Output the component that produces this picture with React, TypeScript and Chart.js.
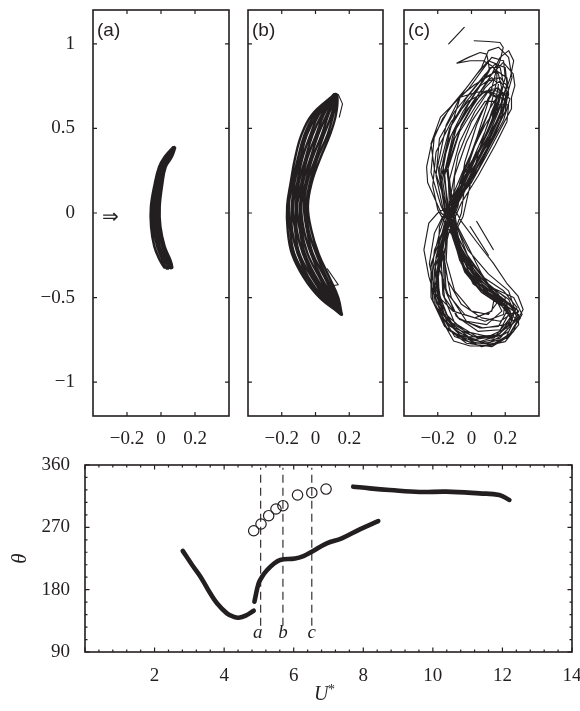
import React, { useEffect, useRef } from 'react';
import { Chart, registerables } from 'chart.js';

Chart.register(...registerables);

const INK = '#231f20';
const SERIF = '"Liberation Serif", "Times New Roman", serif';
const SANS = '"Liberation Sans", Arial, Helvetica, sans-serif';

// ---- orbit panels (a)-(c): shared axes ----
const ORBIT_X_TICKS = [-0.2, 0, 0.2];
const ORBIT_Y_TICKS = [-1, -0.5, 0, 0.5, 1];
const ORBIT_X_RANGE = [-0.4, 0.4];
const ORBIT_Y_RANGE = [-1.2, 1.2];
const PANEL_TAGS = ['(a)', '(b)', '(c)'];

// (a) narrow crescent, strands read bottom-to-top across the band
const ORBIT_A_STRANDS = [
  [[0.020, -0.322], [-0.008, -0.276], [-0.039, -0.198], [-0.058, -0.08], [-0.059, 0.037], [-0.036, 0.175], [-0.011, 0.272], [0.021, 0.331], [0.067, 0.384]],
  [[0.032, -0.326], [0.009, -0.276], [-0.022, -0.198], [-0.044, -0.08], [-0.046, 0.037], [-0.025, 0.175], [-0.002, 0.272], [0.031, 0.331], [0.071, 0.388]],
  [[0.045, -0.325], [0.024, -0.276], [-0.008, -0.198], [-0.030, -0.08], [-0.034, 0.037], [-0.014, 0.175], [0.010, 0.272], [0.043, 0.331], [0.076, 0.386]],
  [[0.056, -0.324], [0.039, -0.276], [0.008, -0.198], [-0.017, -0.08], [-0.021, 0.037], [-0.003, 0.175], [0.018, 0.272], [0.053, 0.331], [0.079, 0.389]],
  [[0.066, -0.322], [0.054, -0.276], [0.021, -0.198], [-0.004, -0.08], [-0.008, 0.037], [0.008, 0.175], [0.027, 0.272], [0.063, 0.331], [0.083, 0.385]],
];

// (b) wider crescent, strands read bottom-to-top
const ORBIT_B_STRANDS = [
  [[0.148, -0.595], [0.025, -0.50], [-0.070, -0.38], [-0.140, -0.24], [-0.165, -0.10], [-0.168, 0.04], [-0.147, 0.18], [-0.122, 0.32], [-0.084, 0.46], [-0.022, 0.58], [0.100, 0.69]],
  [[0.155, -0.60], [0.082, -0.50], [0.004, -0.38], [-0.063, -0.24], [-0.093, -0.10], [-0.108, 0.04], [-0.083, 0.18], [-0.050, 0.32], [0.003, 0.46], [0.048, 0.58], [0.115, 0.695]],
  [[0.146, -0.59], [0.045, -0.50], [-0.042, -0.38], [-0.106, -0.24], [-0.139, -0.10], [-0.141, 0.04], [-0.124, 0.18], [-0.090, 0.32], [-0.052, 0.46], [0.009, 0.58], [0.107, 0.70]],
  [[0.153, -0.595], [0.111, -0.50], [0.054, -0.38], [-0.016, -0.24], [-0.051, -0.10], [-0.068, 0.04], [-0.049, 0.18], [-0.001, 0.32], [0.049, 0.46], [0.094, 0.58], [0.125, 0.70]],
  [[0.151, -0.595], [0.067, -0.50], [-0.011, -0.38], [-0.075, -0.24], [-0.111, -0.10], [-0.117, 0.04], [-0.099, 0.18], [-0.060, 0.32], [-0.018, 0.46], [0.037, 0.58], [0.113, 0.70]],
  [[0.155, -0.60], [0.135, -0.50], [0.082, -0.38], [0.018, -0.24], [-0.025, -0.10], [-0.045, 0.04], [-0.022, 0.18], [0.027, 0.32], [0.085, 0.46], [0.121, 0.58], [0.130, 0.69]],
  [[0.150, -0.60], [0.038, -0.50], [-0.053, -0.38], [-0.126, -0.24], [-0.150, -0.10], [-0.158, 0.04], [-0.136, 0.18], [-0.105, 0.32], [-0.066, 0.46], [-0.006, 0.58], [0.104, 0.695]],
  [[0.156, -0.60], [0.104, -0.50], [0.034, -0.38], [-0.027, -0.24], [-0.069, -0.10], [-0.084, 0.04], [-0.058, 0.18], [-0.020, 0.32], [0.036, 0.46], [0.076, 0.58], [0.121, 0.69]],
  [[0.153, -0.60], [0.060, -0.50], [-0.022, -0.38], [-0.095, -0.24], [-0.121, -0.10], [-0.133, 0.04], [-0.108, 0.18], [-0.079, 0.32], [-0.031, 0.46], [0.019, 0.58], [0.110, 0.69]],
  [[0.157, -0.60], [0.126, -0.50], [0.065, -0.38], [0.004, -0.24], [-0.041, -0.10], [-0.055, 0.04], [-0.033, 0.18], [0.010, 0.32], [0.070, 0.46], [0.105, 0.58], [0.128, 0.695]],
  [[0.152, -0.59], [0.089, -0.50], [0.023, -0.38], [-0.047, -0.24], [-0.083, -0.10], [-0.092, 0.04], [-0.074, 0.18], [-0.031, 0.32], [0.015, 0.46], [0.066, 0.58], [0.119, 0.70]],
];
const ORBIT_B_TAILS = [
  [[0.108, 0.704], [0.135, 0.70], [0.160, 0.645], [0.141, 0.567]],
  [[0.070, -0.330], [0.135, -0.424], [0.102, -0.430]],
];

// (c) figure-eight cycles, sampled coarsely (one trajectory, cycle by cycle)
const ORBIT_C_CYCLES = [
  [[0.016, 1.018], [0.10, 1.014], [0.169, 1.008], [0.188, 0.978], [0.169, 0.90], [0.149, 0.851], [0.10, 0.66], [0.03, 0.44], [-0.05, 0.22], [-0.12, 0.03], [-0.18, -0.20], [-0.21, -0.45], [-0.14, -0.66], [0.00, -0.75], [0.14, -0.73], [0.23, -0.62], [0.16, -0.48], [0.03, -0.36], [-0.07, -0.19]],
  [[-0.13, 0.0], [-0.17, 0.25], [-0.13, 0.48], [-0.067, 0.684], [0.031, 0.714], [0.139, 0.724], [0.188, 0.704], [0.228, 0.675], [0.19, 0.55], [0.10, 0.38], [0.0, 0.21], [-0.09, 0.05], [-0.16, -0.14], [-0.22, -0.34], [-0.21, -0.55], [-0.12, -0.70], [0.03, -0.77], [0.17, -0.74], [0.27, -0.62], [0.22, -0.51], [0.09, -0.42], [-0.03, -0.28], [-0.10, -0.12]],
  [[-0.05, -0.02], [0.0, 0.20], [0.06, 0.42], [0.12, 0.60], [0.17, 0.72], [0.21, 0.70], [0.20, 0.60], [0.13, 0.46], [0.03, 0.30], [-0.06, 0.16], [-0.15, 0.02], [-0.22, -0.12], [-0.25, -0.30], [-0.21, -0.48], [-0.11, -0.58], [0.02, -0.62], [0.12, -0.58], [0.14, -0.48], [0.06, -0.36], [-0.02, -0.20]],
  [[-0.15, 0.05], [-0.22, 0.26], [-0.24, 0.41], [-0.184, 0.567], [-0.106, 0.645], [-0.02, 0.73], [0.06, 0.84], [0.12, 0.92], [0.19, 0.90], [0.20, 0.80], [0.15, 0.62], [0.07, 0.43], [-0.02, 0.24], [-0.10, 0.06], [-0.17, -0.12], [-0.24, -0.30], [-0.24, -0.50], [-0.16, -0.67], [-0.03, -0.77], [0.12, -0.79], [0.22, -0.73], [0.30, -0.60], [0.25, -0.50], [0.12, -0.44], [0.0, -0.34], [-0.08, -0.16]],
  [[-0.18, 0.04], [-0.24, 0.24], [-0.22, 0.46], [-0.13, 0.62], [-0.03, 0.74], [0.06, 0.86], [0.10, 0.96], [0.16, 0.98], [0.22, 0.92], [0.24, 0.80], [0.20, 0.66], [0.12, 0.48], [0.03, 0.30], [-0.06, 0.12], [-0.14, -0.04], [-0.22, -0.22], [-0.24, -0.44], [-0.17, -0.62], [-0.05, -0.74], [0.10, -0.77], [0.22, -0.70], [0.28, -0.58], [0.18, -0.50], [0.05, -0.42], [-0.05, -0.28], [-0.11, -0.12]],
  [[-0.11, 0.02], [-0.10, 0.22], [-0.03, 0.42], [0.06, 0.60], [0.12, 0.70], [0.18, 0.68], [0.17, 0.57], [0.10, 0.42], [0.01, 0.25], [-0.08, 0.08], [-0.14, -0.08], [-0.15, -0.28], [-0.10, -0.46], [0.0, -0.58], [0.10, -0.60], [0.16, -0.52], [0.08, -0.40], [-0.02, -0.26], [-0.08, -0.10]],
  [[-0.09, -0.06], [-0.12, 0.12], [-0.08, 0.34], [0.0, 0.54], [0.08, 0.66], [0.14, 0.66], [0.12, 0.54], [0.05, 0.38], [-0.04, 0.22], [-0.12, 0.08], [-0.19, -0.08], [-0.20, -0.30], [-0.14, -0.48], [-0.04, -0.60], [0.08, -0.64], [0.19, -0.60], [0.20, -0.50], [0.10, -0.42], [0.0, -0.30], [-0.07, -0.16]],
  [[-0.16, 0.03], [-0.19, 0.27], [-0.13, 0.50], [-0.03, 0.66], [0.07, 0.78], [0.106, 0.841], [0.10, 0.89], [0.09, 0.939], [0.051, 0.949], [-0.018, 0.92], [-0.086, 0.886], [-0.008, 0.90], [0.071, 0.90], [0.119, 0.871], [0.159, 0.822], [0.178, 0.743], [0.14, 0.60], [0.06, 0.40], [-0.03, 0.20], [-0.11, 0.03], [-0.17, -0.16], [-0.20, -0.38], [-0.18, -0.57], [-0.09, -0.70], [0.05, -0.76], [0.18, -0.72], [0.28, -0.62], [0.306, -0.57], [0.276, -0.492], [0.208, -0.414], [0.129, -0.296], [0.03, -0.17], [-0.06, -0.05]],
  [[-0.12, 0.06], [-0.15, 0.28], [-0.09, 0.50], [0.01, 0.66], [0.10, 0.78], [0.17, 0.80], [0.22, 0.74], [0.20, 0.60], [0.12, 0.43], [0.03, 0.26], [-0.07, 0.08], [-0.15, -0.10], [-0.20, -0.30], [-0.19, -0.52], [-0.10, -0.68], [0.04, -0.74], [0.16, -0.72], [0.24, -0.64], [0.19, -0.54], [0.06, -0.46], [-0.04, -0.34], [-0.10, -0.16]],
  [[-0.2, 0.02], [-0.23, 0.16], [-0.21, 0.36], [-0.12, 0.54], [-0.02, 0.66], [0.09, 0.72], [0.15, 0.68], [0.13, 0.56], [0.06, 0.40], [-0.04, 0.24], [-0.10, 0.10], [-0.14, -0.04], [-0.17, -0.22], [-0.14, -0.40], [-0.06, -0.54], [0.06, -0.62], [0.17, -0.64], [0.26, -0.58], [0.22, -0.46], [0.10, -0.36], [-0.02, -0.22], [-0.09, -0.08]],
  [[-0.18, 0.0], [-0.26, 0.18], [-0.266, 0.272], [-0.237, 0.41], [-0.17, 0.56], [-0.08, 0.68], [0.02, 0.76], [0.12, 0.82], [0.188, 0.89], [0.247, 0.822], [0.257, 0.753], [0.237, 0.684], [0.237, 0.616], [0.188, 0.527], [0.10, 0.36], [0.0, 0.18], [-0.10, 0.06], [-0.20, 0.0], [-0.253, -0.06], [-0.282, -0.218], [-0.253, -0.375], [-0.224, -0.472], [-0.184, -0.57], [-0.155, -0.669], [-0.106, -0.757], [-0.008, -0.786], [0.11, -0.786], [0.208, -0.727], [0.25, -0.64], [0.18, -0.55], [0.06, -0.47], [-0.04, -0.35], [-0.10, -0.18]],
  [[-0.14, 0.02], [-0.16, 0.24], [-0.11, 0.46], [-0.02, 0.64], [0.05, 0.75], [0.12, 0.80], [0.16, 0.76], [0.14, 0.64], [0.08, 0.48], [0.0, 0.30], [-0.09, 0.10], [-0.16, -0.06], [-0.21, -0.26], [-0.22, -0.46], [-0.15, -0.63], [-0.02, -0.73], [0.13, -0.74], [0.23, -0.66], [0.26, -0.57], [0.16, -0.50], [0.04, -0.40], [-0.06, -0.24], [-0.12, -0.06]],
  [[-0.08, 0.04], [-0.04, 0.30], [0.03, 0.52], [0.10, 0.68], [0.15, 0.74], [0.19, 0.70], [0.17, 0.58], [0.09, 0.44], [0.0, 0.28], [-0.08, 0.12], [-0.15, -0.02], [-0.17, -0.22], [-0.16, -0.44], [-0.09, -0.61], [0.04, -0.70], [0.17, -0.69], [0.23, -0.58], [0.15, -0.49], [0.02, -0.41], [-0.07, -0.28], [-0.12, -0.10]],
  [[-0.10, 0.02], [-0.07, 0.18], [0.0, 0.36], [0.08, 0.52], [0.16, 0.64], [0.22, 0.64], [0.21, 0.54], [0.14, 0.40], [0.04, 0.22], [-0.06, 0.06], [-0.13, -0.10], [-0.18, -0.30], [-0.16, -0.50], [-0.07, -0.63], [0.07, -0.68], [0.20, -0.66], [0.27, -0.56], [0.19, -0.46], [0.07, -0.38], [-0.03, -0.24]],
  [[-0.17, 0.03], [-0.21, 0.22], [-0.19, 0.44], [-0.10, 0.60], [0.00, 0.72], [0.08, 0.82], [0.14, 0.88], [0.20, 0.86], [0.21, 0.76], [0.16, 0.60], [0.08, 0.41], [-0.01, 0.22], [-0.10, 0.04], [-0.16, -0.14], [-0.21, -0.36], [-0.19, -0.58], [-0.10, -0.73], [0.06, -0.79], [0.20, -0.76], [0.28, -0.66], [0.27, -0.57], [0.15, -0.48], [0.03, -0.38], [-0.06, -0.22]],
  [[-0.11, 0.0], [-0.13, 0.20], [-0.07, 0.42], [0.02, 0.60], [0.10, 0.72], [0.15, 0.70], [0.14, 0.58], [0.07, 0.42], [-0.02, 0.24], [-0.10, 0.07], [-0.15, -0.10], [-0.16, -0.30], [-0.12, -0.50], [-0.03, -0.64], [0.09, -0.66], [0.18, -0.58], [0.12, -0.46], [0.02, -0.36], [-0.07, -0.20]],
  [[-0.12, 0.02], [-0.14, 0.28], [-0.06, 0.52], [0.04, 0.70], [0.12, 0.82], [0.17, 0.92], [0.22, 0.96], [0.25, 0.90], [0.23, 0.80], [0.18, 0.66], [0.10, 0.48], [0.01, 0.30], [-0.08, 0.12], [-0.15, -0.04], [-0.19, -0.24], [-0.20, -0.46], [-0.13, -0.64], [0.01, -0.73], [0.15, -0.73], [0.24, -0.64], [0.20, -0.54], [0.08, -0.46], [-0.02, -0.34], [-0.09, -0.16]],
  [[-0.15, -0.02], [-0.18, 0.20], [-0.14, 0.42], [-0.05, 0.60], [0.04, 0.74], [0.11, 0.86], [0.17, 0.86], [0.19, 0.76], [0.15, 0.60], [0.08, 0.44], [-0.01, 0.26], [-0.09, 0.10], [-0.14, -0.06], [-0.18, -0.26], [-0.17, -0.48], [-0.10, -0.65], [0.03, -0.73], [0.16, -0.72], [0.24, -0.62], [0.20, -0.52], [0.08, -0.44], [-0.02, -0.32], [-0.09, -0.14]],
  [[-0.14, 0.05], [-0.17, 0.30], [-0.12, 0.52], [-0.03, 0.68], [0.06, 0.79], [0.15, 0.84], [0.21, 0.80], [0.22, 0.70], [0.17, 0.55], [0.09, 0.38], [0.0, 0.20], [-0.09, 0.04], [-0.17, -0.14], [-0.23, -0.34], [-0.22, -0.54], [-0.14, -0.69], [0.00, -0.77], [0.15, -0.77], [0.25, -0.70], [0.28, -0.60], [0.18, -0.53], [0.06, -0.45], [-0.04, -0.32], [-0.11, -0.14]],
  [[-0.06, 0.0], [-0.03, 0.25], [0.04, 0.46], [0.11, 0.62], [0.16, 0.70], [0.20, 0.66], [0.18, 0.56], [0.12, 0.42], [0.04, 0.26], [-0.06, 0.10], [-0.14, -0.04], [-0.16, -0.28], [-0.15, -0.47], [-0.08, -0.62], [0.05, -0.68], [0.16, -0.67], [0.21, -0.58], [0.13, -0.50], [0.01, -0.42], [-0.06, -0.28], [-0.11, -0.12]],
  [[-0.16, 0.02], [-0.20, 0.28], [-0.15, 0.52], [-0.06, 0.70], [0.03, 0.82], [0.10, 0.90], [0.15, 0.88], [0.15, 0.78], [0.11, 0.62], [0.04, 0.44], [-0.05, 0.25], [-0.13, 0.06], [-0.19, -0.12], [-0.24, -0.32], [-0.23, -0.52], [-0.16, -0.67], [-0.02, -0.76], [0.13, -0.78], [0.23, -0.71], [0.29, -0.62], [0.22, -0.54], [0.10, -0.47], [-0.01, -0.36], [-0.09, -0.18]],
  [[-0.13, 0.02], [-0.14, 0.26], [-0.07, 0.48], [0.03, 0.64], [0.11, 0.74], [0.17, 0.78], [0.21, 0.72], [0.18, 0.60], [0.11, 0.45], [0.02, 0.28], [-0.07, 0.10], [-0.14, -0.05], [-0.19, -0.22], [-0.21, -0.42], [-0.15, -0.60], [-0.04, -0.70], [0.10, -0.73], [0.21, -0.68], [0.25, -0.58], [0.14, -0.51], [0.03, -0.43], [-0.06, -0.30], [-0.12, -0.12]],
  [[-0.15, 0.04], [-0.18, 0.26], [-0.12, 0.46], [-0.02, 0.62], [0.08, 0.72], [0.16, 0.74], [0.20, 0.66], [0.17, 0.54], [0.09, 0.38], [-0.01, 0.20], [-0.10, 0.03], [-0.16, -0.16], [-0.20, -0.40], [-0.17, -0.60], [-0.07, -0.72], [0.08, -0.77], [0.21, -0.74], [0.27, -0.64], [0.21, -0.56], [0.08, -0.48], [-0.03, -0.36], [-0.10, -0.18]],
  [[-0.14, 0.0], [-0.16, 0.22], [-0.10, 0.44], [0.00, 0.62], [0.08, 0.74], [0.14, 0.80]],
];
const ORBIT_C_STRAYS = [
  [[-0.135, 1.0], [-0.043, 1.097]],
  [[0.031, -0.05], [0.129, -0.216]],
  [[-0.008, -0.08], [0.10, -0.25]],
];

// ---- phase plot ----
const U_RANGE = [0, 14];
const THETA_RANGE = [90, 360];
const U_TICKS = [2, 4, 6, 8, 10, 12, 14];
const THETA_TICKS = [90, 180, 270, 360];
const U_MINOR_STEP = 0.4;
const THETA_MINOR_STEP = 18;

const LOW_U = [2.81, 3.08, 3.32, 3.60, 3.80, 4.08, 4.27, 4.42, 4.62, 4.85];
const LOW_THETA = [236, 215.6, 198.7, 174.7, 160, 145.8, 141, 139.5, 142.5, 149.6];
const MID_U = [4.87, 4.99, 5.09, 5.23, 5.42, 5.61, 6.04, 6.28, 6.52, 6.95, 7.38, 7.90, 8.43];
const MID_THETA = [162.6, 189, 198.7, 208, 217, 222.8, 225, 228.6, 234.8, 246.9, 254.1, 267.1, 279.1];
const HIGH_U = [7.71, 8.19, 8.76, 9.62, 10.39, 11.34, 11.91, 12.2];
const HIGH_THETA = [328.7, 326.3, 323.9, 321, 321.5, 319, 316.7, 309.5];
const OPEN_U = [4.85, 5.06, 5.28, 5.49, 5.69, 6.11, 6.52, 6.93];
const OPEN_THETA = [265.1, 274.8, 286.8, 296.5, 301.2, 316.7, 320, 325.3];
const MARK_U = [5.05, 5.69, 6.52];
const MARK_LABELS = ['a', 'b', 'c'];
const MARK_THETA_SPAN = [128, 356];
const MARK_LABEL_THETA = 117;

const pts = (pairs: number[][]) => pairs.map(([x, y]) => ({ x, y }));
// join strands into one back-and-forth path
const weave = (strands: number[][][]) =>
  pts(strands.flatMap((s, i) => (i % 2 ? [...s].reverse() : s)));
const zip = (xs: number[], ys: number[]) => xs.map((x, i) => ({ x, y: ys[i] }));
const fmt = (v: number) => (v < 0 ? '\u2212' + String(Math.abs(v)) : String(v));

type FrameSpec = {
  xMajor: number[];
  yMajor: number[];
  xMinor?: number[];
  yMinor?: number[];
  majorLen: number;
  minorLen: number;
};

const framePlugin = (spec: FrameSpec) => ({
  id: 'frame',
  afterDatasetsDraw(chart: any) {
    const { ctx, chartArea: a, scales } = chart;
    const sx = scales.x;
    const sy = scales.y;
    ctx.save();
    ctx.strokeStyle = INK;
    ctx.lineWidth = 1.2;
    ctx.beginPath();
    const vt = (v: number, len: number) => {
      const p = sx.getPixelForValue(v);
      ctx.moveTo(p, a.bottom);
      ctx.lineTo(p, a.bottom - len);
      ctx.moveTo(p, a.top);
      ctx.lineTo(p, a.top + len);
    };
    const ht = (v: number, len: number) => {
      const p = sy.getPixelForValue(v);
      ctx.moveTo(a.left, p);
      ctx.lineTo(a.left + len, p);
      ctx.moveTo(a.right, p);
      ctx.lineTo(a.right - len, p);
    };
    (spec.xMinor || []).forEach((v) => vt(v, spec.minorLen));
    (spec.yMinor || []).forEach((v) => ht(v, spec.minorLen));
    spec.xMajor.forEach((v) => vt(v, spec.majorLen));
    spec.yMajor.forEach((v) => ht(v, spec.majorLen));
    ctx.stroke();
    ctx.lineWidth = 1.6;
    ctx.strokeRect(a.left, a.top, a.right - a.left, a.bottom - a.top);
    ctx.restore();
  },
});

const tagPlugin = (tag: string, arrow: boolean) => ({
  id: 'tag',
  afterDraw(chart: any) {
    const { ctx, chartArea: a, scales } = chart;
    ctx.save();
    ctx.fillStyle = INK;
    ctx.font = `19px ${SANS}`;
    ctx.textAlign = 'left';
    ctx.textBaseline = 'alphabetic';
    ctx.fillText(tag, a.left + 4, a.top + 26);
    if (arrow) {
      ctx.font = `20px ${SERIF}`;
      ctx.textAlign = 'center';
      ctx.textBaseline = 'middle';
      ctx.fillText('\u21D2', a.left + 17, scales.y.getPixelForValue(-0.03));
    }
    ctx.restore();
  },
});

const tickFont = { family: SERIF, size: 19 };

function orbitConfig(p: {
  datasets: any[];
  tag: string;
  showY: boolean;
  leftW: number;
  rightPad: number;
  arrow: boolean;
}) {
  return {
    type: 'scatter',
    data: { datasets: p.datasets },
    options: {
      animation: false,
      responsive: false,
      maintainAspectRatio: false,
      events: [],
      layout: { padding: { left: 0, right: p.rightPad, top: 10, bottom: 0 } },
      plugins: { legend: { display: false }, tooltip: { enabled: false } },
      scales: {
        x: {
          type: 'linear',
          min: ORBIT_X_RANGE[0],
          max: ORBIT_X_RANGE[1],
          grid: { display: false, drawTicks: false },
          border: { display: false },
          afterBuildTicks: (s: any) => {
            s.ticks = ORBIT_X_TICKS.map((value) => ({ value }));
          },
          afterFit: (s: any) => {
            s.height = 34;
            s.paddingLeft = 0;
            s.paddingRight = 0;
          },
          ticks: {
            font: tickFont,
            color: INK,
            padding: 12,
            autoSkip: false,
            maxRotation: 0,
            callback: (v: number) => fmt(v),
          },
        },
        y: {
          type: 'linear',
          min: ORBIT_Y_RANGE[0],
          max: ORBIT_Y_RANGE[1],
          grid: { display: false, drawTicks: false },
          border: { display: false },
          afterBuildTicks: (s: any) => {
            s.ticks = ORBIT_Y_TICKS.map((value) => ({ value }));
          },
          afterFit: (s: any) => {
            s.width = p.leftW;
            s.paddingTop = 0;
            s.paddingBottom = 0;
          },
          ticks: {
            display: p.showY,
            font: tickFont,
            color: INK,
            padding: 18,
            autoSkip: false,
            callback: (v: number) => fmt(v),
          },
        },
      },
    },
    plugins: [
      framePlugin({ xMajor: ORBIT_X_TICKS, yMajor: ORBIT_Y_TICKS, majorLen: 4, minorLen: 0 }),
      tagPlugin(p.tag, p.arrow),
    ],
  };
}

const lineSet = (data: any[], width: number, tension: number) => ({
  data,
  showLine: true,
  borderColor: INK,
  borderWidth: width,
  pointRadius: 0,
  tension,
  borderJoinStyle: 'round',
  borderCapStyle: 'round',
});

const buildA = () =>
  orbitConfig({
    datasets: [lineSet(weave(ORBIT_A_STRANDS), 2.6, 0.4)],
    tag: PANEL_TAGS[0],
    showY: true,
    leftW: 93,
    rightPad: 11,
    arrow: true,
  });

const buildB = () =>
  orbitConfig({
    datasets: [
      lineSet(weave(ORBIT_B_STRANDS), 2.4, 0.4),
      ...ORBIT_B_TAILS.map((t) => lineSet(pts(t), 1.1, 0)),
    ],
    tag: PANEL_TAGS[1],
    showY: false,
    leftW: 8,
    rightPad: 7,
    arrow: false,
  });

const buildC = () =>
  orbitConfig({
    datasets: [
      lineSet(pts(ORBIT_C_CYCLES.flat()), 1.15, 0),
      ...ORBIT_C_STRAYS.map((s) => lineSet(pts(s), 1.2, 0)),
    ],
    tag: PANEL_TAGS[2],
    showY: false,
    leftW: 8,
    rightPad: 7,
    arrow: false,
  });

const minorTicks = (lo: number, hi: number, step: number) => {
  const out: number[] = [];
  for (let k = 0; lo + k * step <= hi + 1e-9; k++) out.push(lo + k * step);
  return out;
};

const phaseLabels = {
  id: 'phaseLabels',
  afterDraw(chart: any) {
    const { ctx, chartArea: a, scales } = chart;
    const sx = scales.x;
    const sy = scales.y;
    ctx.save();
    ctx.fillStyle = INK;
    ctx.font = `italic 19px ${SERIF}`;
    ctx.textAlign = 'center';
    ctx.textBaseline = 'middle';
    MARK_U.forEach((u, i) => {
      ctx.fillText(MARK_LABELS[i], sx.getPixelForValue(u) - (i === 0 ? 3 : 0), sy.getPixelForValue(MARK_LABEL_THETA));
    });
    const cx = sx.getPixelForValue(7);
    ctx.textAlign = 'left';
    ctx.textBaseline = 'alphabetic';
    ctx.font = `italic 20px ${SERIF}`;
    ctx.fillText('U', cx - 14.5, a.bottom + 48);
    ctx.font = `14px ${SERIF}`;
    ctx.fillText('*', cx - 0.5, a.bottom + 42);
    ctx.restore();
  },
};

const buildPhase = () => ({
  type: 'scatter',
  data: {
    datasets: [
      ...MARK_U.map((u) => ({
        data: [
          { x: u, y: MARK_THETA_SPAN[0] },
          { x: u, y: MARK_THETA_SPAN[1] },
        ],
        showLine: true,
        borderColor: INK,
        borderWidth: 1.1,
        borderDash: [8, 5],
        pointRadius: 0,
      })),
      lineSet(zip(LOW_U, LOW_THETA), 4.6, 0.4),
      lineSet(zip(MID_U, MID_THETA), 4.6, 0.4),
      lineSet(zip(HIGH_U, HIGH_THETA), 4.6, 0.4),
      {
        data: zip(OPEN_U, OPEN_THETA),
        showLine: false,
        pointRadius: 5.2,
        pointBorderWidth: 1.2,
        pointBorderColor: INK,
        pointBackgroundColor: 'rgba(0,0,0,0)',
      },
    ],
  },
  options: {
    animation: false,
    responsive: false,
    maintainAspectRatio: false,
    events: [],
    layout: { padding: { left: 0, right: 8, top: 15, bottom: 0 } },
    plugins: { legend: { display: false }, tooltip: { enabled: false } },
    scales: {
      x: {
        type: 'linear',
        min: U_RANGE[0],
        max: U_RANGE[1],
        grid: { display: false, drawTicks: false },
        border: { display: false },
        afterBuildTicks: (s: any) => {
          s.ticks = U_TICKS.map((value) => ({ value }));
        },
        afterFit: (s: any) => {
          s.height = 59;
          s.paddingLeft = 0;
          s.paddingRight = 0;
        },
        ticks: { font: tickFont, color: INK, padding: 13, autoSkip: false, maxRotation: 0 },
      },
      y: {
        type: 'linear',
        min: THETA_RANGE[0],
        max: THETA_RANGE[1],
        grid: { display: false, drawTicks: false },
        border: { display: false },
        afterBuildTicks: (s: any) => {
          s.ticks = THETA_TICKS.map((value) => ({ value }));
        },
        afterFit: (s: any) => {
          s.width = 85;
          s.paddingTop = 0;
          s.paddingBottom = 0;
        },
        title: {
          display: true,
          text: '\u03B8',
          color: INK,
          font: { family: SERIF, size: 21, style: 'italic' },
          padding: { top: 8, bottom: 0 },
        },
        ticks: { font: tickFont, color: INK, padding: 15, autoSkip: false },
      },
    },
  },
  plugins: [
    framePlugin({
      xMajor: U_TICKS.concat([0]),
      yMajor: THETA_TICKS,
      xMinor: minorTicks(U_RANGE[0], U_RANGE[1], U_MINOR_STEP),
      yMinor: minorTicks(THETA_RANGE[0], THETA_RANGE[1], THETA_MINOR_STEP),
      majorLen: 4.5,
      minorLen: 2.5,
    }),
    phaseLabels,
  ],
});

function ChartCanvas(props: { build: () => any; left: number; top: number; width: number; height: number }) {
  const ref = useRef<HTMLCanvasElement>(null);
  useEffect(() => {
    const chart = new Chart(ref.current as HTMLCanvasElement, props.build());
    return () => chart.destroy();
  }, []);
  return (
    <canvas
      ref={ref}
      width={props.width}
      height={props.height}
      style={{
        position: 'absolute',
        left: props.left,
        top: props.top,
        width: props.width,
        height: props.height,
        display: 'block',
      }}
    />
  );
}

export default function App() {
  return (
    <div style={{ position: 'absolute', left: 0, top: 0, width: 580, height: 711, background: '#fff', overflow: 'hidden' }}>
      <ChartCanvas build={buildA} left={0} top={0} width={240} height={450} />
      <ChartCanvas build={buildB} left={240} top={0} width={150} height={450} />
      <ChartCanvas build={buildC} left={396} top={0} width={150} height={450} />
      <ChartCanvas build={buildPhase} left={0} top={450} width={580} height={261} />
    </div>
  );
}
